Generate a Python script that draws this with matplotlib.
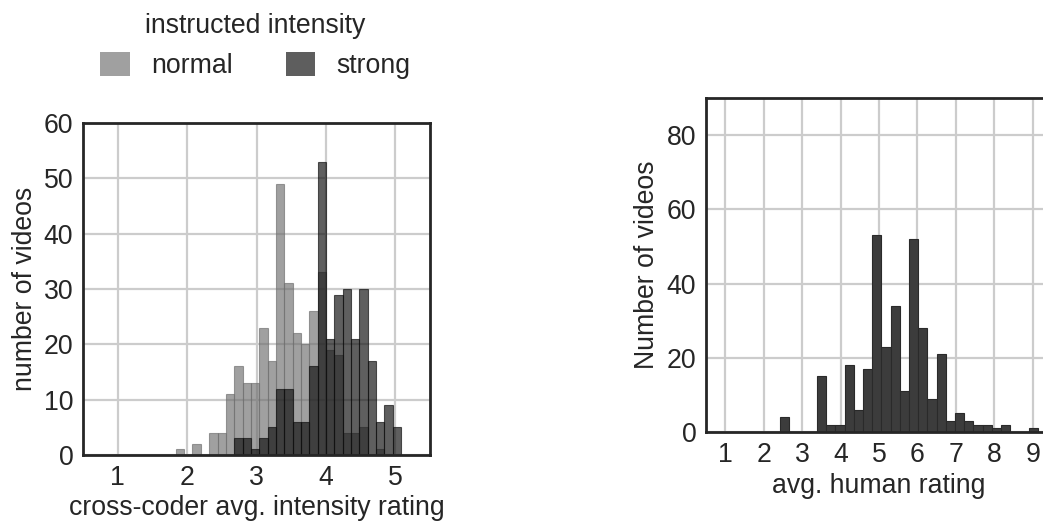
import numpy as np
import matplotlib
matplotlib.use("Agg")
import matplotlib.pyplot as plt
from matplotlib.patches import Patch

plt.rcParams['font.family'] = ['Liberation Sans', 'DejaVu Sans']

# Cross-coder histogram: 27 equal bins starting at 1.837
cc_bin_start = 1.837
cc_bin_width = 0.1202
cc_normal = [1, 0, 2, 0, 4, 4, 11, 16, 13, 13, 23, 17, 49, 31, 22, 20, 26, 33,
             19, 18, 4, 4, 5, 0, 1, 0, 0]
cc_strong = [0, 0, 0, 0, 0, 0, 0, 3, 3, 1, 3, 5, 12, 12, 6, 6, 16, 53,
             21, 29, 30, 21, 30, 17, 6, 9, 5]
cc_labels = ['normal', 'strong']

# Human rating histogram: 28 equal bins starting at 2.43
hr_bin_start = 2.43
hr_bin_width = 0.2394
hr_counts = [4, 0, 0, 0, 15, 2, 2, 18, 6, 17, 53, 23, 34, 11, 52, 28, 9, 21,
             3, 5, 3, 2, 2, 1, 2, 0, 0, 1]

left_ticks_x = [1, 2, 3, 4, 5]
left_ticks_y = [0, 10, 20, 30, 40, 50, 60]
right_ticks_x = [1, 2, 3, 4, 5, 6, 7, 8, 9]
right_ticks_y = [0, 20, 40, 60, 80]

FS = 19.2
GRID = '#cccccc'
SPINE = '#262626'
TEXT = '#262626'

fig = plt.figure(figsize=(10.43, 5.22), dpi=100)


def style_axes(ax):
    ax.set_axisbelow(True)
    ax.grid(True, color=GRID, linewidth=1.6)
    for s in ax.spines.values():
        s.set_color(SPINE)
        s.set_linewidth(2.0)
    ax.tick_params(axis='both', length=0, labelsize=FS, colors=TEXT, pad=7)


# ---- left: cross-coder ratings split by instructed intensity ----
ax1 = fig.add_axes([0.0796, 0.1284, 0.3327, 0.636])
style_axes(ax1)
n_cc = len(cc_normal)
cc_left = cc_bin_start + cc_bin_width * np.arange(n_cc)
alpha = 0.66
c_norm = '#6f6f6f'
c_strong = '#0d0d0d'
ax1.bar(cc_left, cc_normal, width=cc_bin_width, align='edge', color=c_norm,
        alpha=alpha, edgecolor=c_norm, linewidth=0.8)
ax1.bar(cc_left, cc_strong, width=cc_bin_width, align='edge', color=c_strong,
        alpha=alpha, edgecolor=c_strong, linewidth=0.8)
ax1.set_xlim(0.5, 5.5)
ax1.set_ylim(0, 60)
ax1.set_xticks(left_ticks_x)
ax1.set_yticks(left_ticks_y)
ax1.set_xlabel('cross-coder avg. intensity rating', fontsize=FS, color=TEXT,
               labelpad=3)
ax1.set_ylabel('number of videos', fontsize=FS, color=TEXT, labelpad=4)

handles = [Patch(facecolor='#a0a0a0', edgecolor='none'),
           Patch(facecolor='#5e5e5e', edgecolor='none')]
leg = fig.legend(handles, cc_labels, title='instructed intensity',
                 loc='upper center', bbox_to_anchor=(0.245, 1.0), ncol=2,
                 frameon=False, fontsize=FS, title_fontsize=FS,
                 handlelength=1.1, handleheight=1.0, handletextpad=0.8,
                 columnspacing=2.0, borderaxespad=0.08)
for t in leg.get_texts():
    t.set_color(TEXT)
leg.get_title().set_color(TEXT)

# ---- right: average human rating ----
ax2 = fig.add_axes([0.6769, 0.1724, 0.3317, 0.6398])
style_axes(ax2)
n_hr = len(hr_counts)
hr_left = hr_bin_start + hr_bin_width * np.arange(n_hr)
ax2.bar(hr_left, hr_counts, width=hr_bin_width, align='edge', color='#3c3c3c',
        edgecolor='#2a2a2a', linewidth=0.8)
ax2.set_xlim(0.5, 9.5)
ax2.set_ylim(0, 90)
ax2.set_xticks(right_ticks_x)
ax2.set_yticks(right_ticks_y)
ax2.set_xlabel('avg. human rating', fontsize=FS, color=TEXT, labelpad=4)
ax2.set_ylabel('Number of videos', fontsize=FS, color=TEXT, labelpad=5)

fig.savefig('out.png', dpi=100)
